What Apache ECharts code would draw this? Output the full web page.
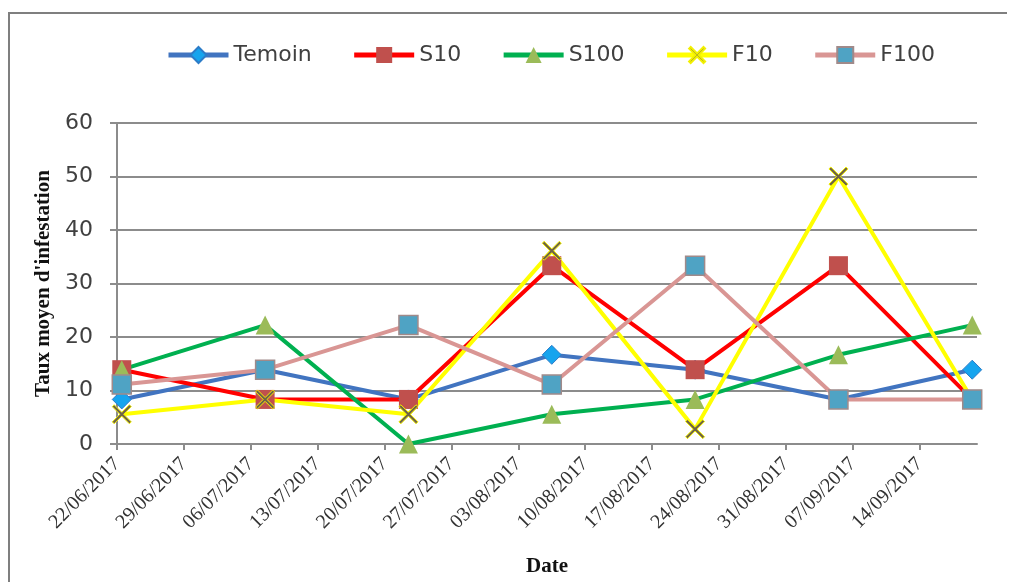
<!DOCTYPE html>
<html><head><meta charset="utf-8">
<script src="https://cdn.jsdelivr.net/npm/echarts@6/dist/echarts.min.js"></script>
<style>html,body{margin:0;padding:0;background:#fff}#c{width:1011px;height:582px}</style>
</head><body><div id="c"></div>
<script>
// ---- data ----
const dates = ['22/06/2017','07/07/2017','22/07/2017','06/08/2017','21/08/2017','05/09/2017','19/09/2017'];
const xTickLabels = ['22/06/2017','29/06/2017','06/07/2017','13/07/2017','20/07/2017','27/07/2017','03/08/2017','10/08/2017','17/08/2017','24/08/2017','31/08/2017','07/09/2017','14/09/2017'];
const axisEndDate = '20/09/2017';
const seriesNames = ['Temoin','S10','S100','F10','F100'];
const temoin = [8.33, 13.89, 8.33, 16.67, 13.89, 8.33, 13.89];
const s10    = [13.89, 8.33, 8.33, 33.33, 13.89, 33.33, 8.33];
const s100   = [13.89, 22.22, 0, 5.56, 8.33, 16.67, 22.22];
const f10    = [5.56, 8.33, 5.56, 36.11, 2.78, 50, 8.33];
const f100   = [11.11, 13.89, 22.22, 11.11, 33.33, 8.33, 8.33];
const yTicks = [0, 10, 20, 30, 40, 50, 60];

// ---- helpers ----
const DAY = 86400000;
function parseDate(s){ const p = s.split('/'); return Date.UTC(+p[2], +p[1]-1, +p[0]); }
function fmt(v){ const d = new Date(v); const dd = String(d.getUTCDate()).padStart(2,'0'); const mm = String(d.getUTCMonth()+1).padStart(2,'0'); return dd+'/'+mm+'/'+d.getUTCFullYear(); }
// Excel date axis centres each point in its day
const xs = dates.map(d => parseDate(d) + DAY/2);
const tickVals = xTickLabels.map(parseDate);
function pairs(vals){ return vals.map((v,i)=>[xs[i], v]); }

const xPath = 'path://M0,1 L1,0 L5,4 L9,0 L10,1 L6,5 L10,9 L9,10 L5,6 L1,10 L0,9 L4,5 Z';
const styles = [
  {line:'#4174c0', symbol:'diamond', size:19, fill:'#16a4ee', border:'#2c7cc8', bw:1},
  {line:'#ff0000', symbol:'rect', size:19, fill:'#c0504d', border:'#c0504d', bw:0},
  {line:'#00b050', symbol:'triangle', size:19, fill:'#9bbb59', border:'#9bbb59', bw:0},
  {line:'#ffff00', symbol:xPath, size:19, fill:'#6e6248', border:'#f2f000', bw:1},
  {line:'#d99694', symbol:'rect', size:19, fill:'#4fa3c4', border:'#a08a8a', bw:1.5}
];
const allData = [temoin, s10, s100, f10, f100];

const chart = echarts.init(document.getElementById('c'));
chart.setOption({
  backgroundColor:'#ffffff',
  animation:false,
  graphic:[{type:'polyline', shape:{points:[[9,600],[9,13],[1007,13]]}, style:{fill:'none', stroke:'#7f7f7f', lineWidth:2}, silent:true}],
  legend:{
    top:39, left:161, itemWidth:60, itemHeight:20, itemGap:40,
    lineStyle:{width:5},
    textStyle:{fontFamily:'DejaVu Sans', fontSize:22, color:'#404040'},
    data: seriesNames
  },
  grid:{left:117, right:34, top:123, bottom:135},
  xAxis:{
    type:'value', min:tickVals[0], max:parseDate(axisEndDate),
    name:'Date', nameLocation:'middle', nameGap:112,
    nameTextStyle:{fontFamily:'Liberation Serif', fontWeight:'bold', fontSize:21, color:'#111'},
    axisLine:{show:true, lineStyle:{color:'#8c8c8c', width:2}},
    axisTick:{show:true, length:6, customValues:tickVals, lineStyle:{color:'#8c8c8c', width:2}},
    axisLabel:{customValues:tickVals, rotate:45, margin:17, formatter:fmt,
      fontFamily:'Liberation Serif', fontSize:20, color:'#333'},
    splitLine:{show:false}
  },
  yAxis:{
    type:'value', min:yTicks[0], max:yTicks[yTicks.length-1], interval:10,
    name:"Taux moyen d'infestation", nameLocation:'middle', nameGap:60, nameRotate:90,
    nameTextStyle:{fontFamily:'Liberation Serif', fontWeight:'bold', fontSize:21, color:'#111'},
    axisLine:{show:true, lineStyle:{color:'#8c8c8c', width:2}},
    axisTick:{show:true, length:7, lineStyle:{color:'#8c8c8c', width:2}},
    axisLabel:{margin:24, fontFamily:'DejaVu Sans', fontSize:22, color:'#404040'},
    splitLine:{show:true, lineStyle:{color:'#8c8c8c', width:2}}
  },
  series: seriesNames.map((n,i)=>({
    name:n, type:'line', data:pairs(allData[i]),
    symbol:styles[i].symbol, symbolSize:styles[i].size, showAllSymbol:true,
    lineStyle:{color:styles[i].line, width:4},
    itemStyle:{color:styles[i].fill, borderColor:styles[i].border, borderWidth:styles[i].bw},
    emphasis:{disabled:true}
  }))
});
</script></body></html>
